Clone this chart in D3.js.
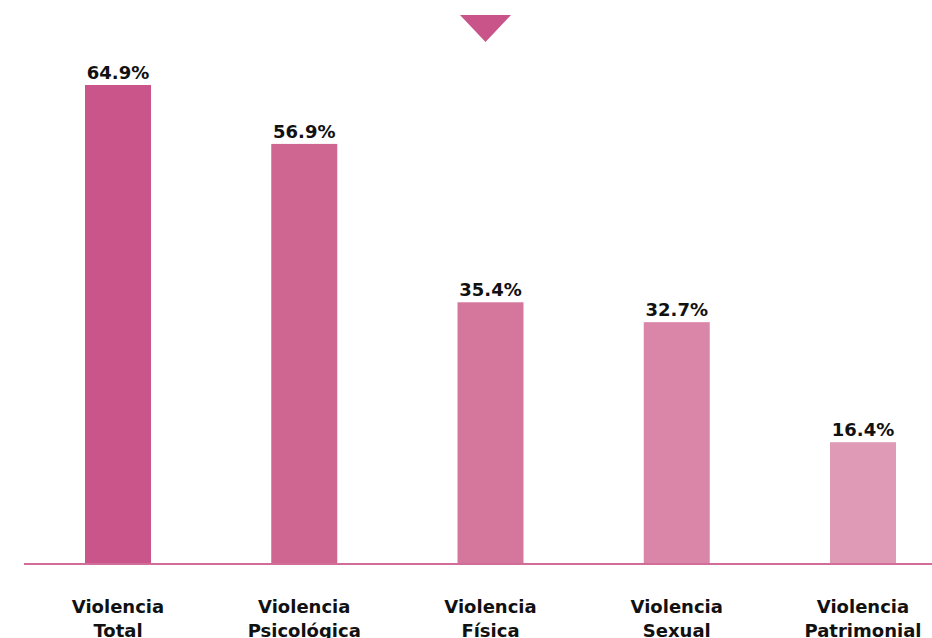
<!DOCTYPE html>
<html>
<head>
<meta charset="utf-8">
<script src="https://cdn.jsdelivr.net/npm/d3@7"></script>
<style>
  body { margin: 0; background: #fff; }
  text { font-family: "Century Gothic", "DejaVu Sans", sans-serif; font-weight: bold; fill: #111; }
</style>
</head>
<body>
<div id="chart"></div>
<script>
var categories = ["Violencia Total", "Violencia Psicológica", "Violencia Física", "Violencia Sexual", "Violencia Patrimonial"];
var values = [64.9, 56.9, 35.4, 32.7, 16.4];
var valueLabels = ["64.9%", "56.9%", "35.4%", "32.7%", "16.4%"];
var barColors = ["#c9558a", "#cf6591", "#d5779d", "#da86a9", "#df9ab6"];

var svgWidth = 932;
var svgHeight = 638;
var baseline = 563;

var svg = d3.select("#chart")
  .append("svg")
  .attr("width", svgWidth)
  .attr("height", svgHeight);

// x positions of the bars
var xScale = d3.scaleBand()
  .domain(categories)
  .range([85, 896])
  .paddingInner(0.6456)
  .paddingOuter(0);

var yScale = d3.scaleLinear()
  .domain([0, 76.44])
  .range([baseline, 0]);

// marker triangle at the top
svg.append("path")
  .attr("d", "M460,15 L511,15 L485.5,42 Z")
  .attr("fill", "#c9548a");

svg.selectAll("rect.bar")
  .data(values)
  .enter()
  .append("rect")
  .attr("class", "bar")
  .attr("x", (d, i) => xScale(categories[i]))
  .attr("y", d => yScale(d))
  .attr("width", xScale.bandwidth())
  .attr("height", d => yScale(0) - yScale(d))
  .attr("fill", (d, i) => barColors[i]);

// baseline
svg.append("line")
  .attr("x1", 24)
  .attr("x2", 932)
  .attr("y1", baseline + 1)
  .attr("y2", baseline + 1)
  .attr("stroke", "#d26c98")
  .attr("stroke-width", 2);

// value labels
svg.selectAll("text.value")
  .data(values)
  .enter()
  .append("text")
  .attr("class", "value")
  .attr("x", (d, i) => xScale(categories[i]) + xScale.bandwidth() / 2)
  .attr("y", d => yScale(d) - 6)
  .attr("text-anchor", "middle")
  .style("font-size", "18px")
  .text((d, i) => valueLabels[i]);

// category labels, two lines
var catText = svg.selectAll("text.cat")
  .data(categories)
  .enter()
  .append("text")
  .attr("class", "cat")
  .attr("text-anchor", "middle")
  .style("font-size", "18px");

catText.each(function(d) {
  var parts = d.split(" ");
  var cx = xScale(d) + xScale.bandwidth() / 2;
  var t = d3.select(this);
  t.append("tspan").attr("x", cx).attr("y", 613).text(parts[0]);
  t.append("tspan").attr("x", cx).attr("y", 637).text(parts.slice(1).join(" "));
});
</script>
</body>
</html>
